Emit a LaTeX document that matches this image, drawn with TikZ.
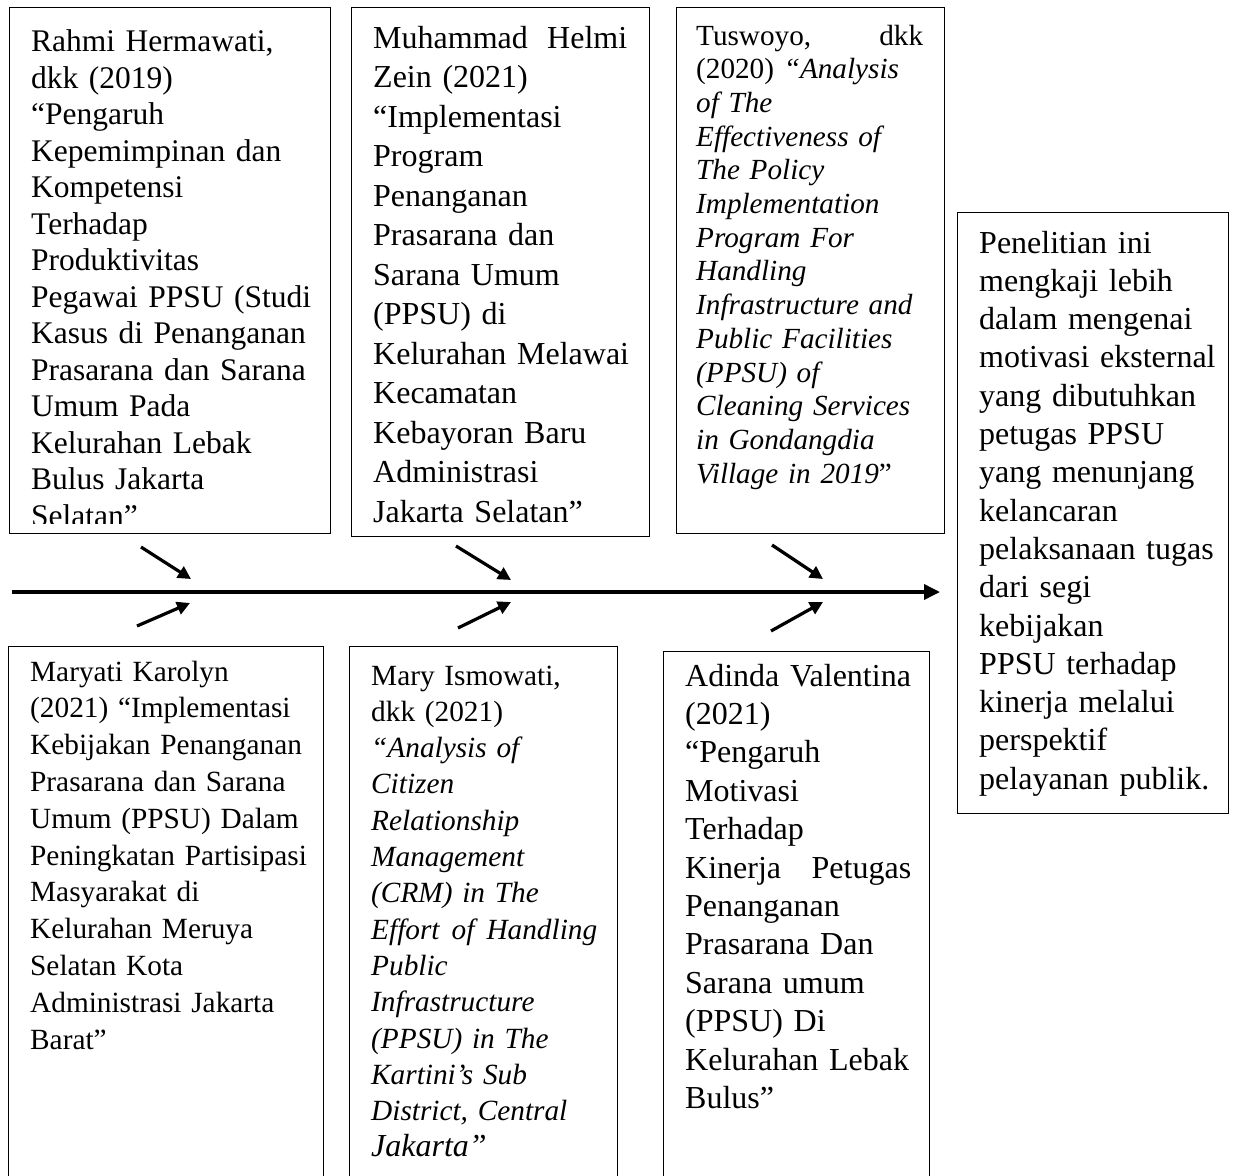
\documentclass[tikz,border=0pt]{standalone}
\usepackage{fontspec}
\setmainfont{Liberation Serif}
\usetikzlibrary{arrows.meta}
\newcommand{\jline}[2]{\leavevmode\hbox to #1{#2}}
\begin{document}
\begin{tikzpicture}[x=1pt,y=-1pt,
  box/.style={draw,line width=1.4pt,inner sep=0pt,anchor=north west},
  txt/.style={anchor=base west,inner sep=0pt,align=left,text width=#1},
  spine/.style={line width=3.6pt,-{Triangle[length=16pt,width=15pt]}},
  fish/.style={line width=3.2pt,-{Triangle[length=13pt,width=13pt]}},
]
\clip (0,0) rectangle (1235,1176);
\fill[white] (0,0) rectangle (1235,1176);

% ---------- top boxes ----------
\node[box,minimum width=321pt,minimum height=526pt] (b1) at (9,7) {};
\node[box,minimum width=298pt,minimum height=529pt] (b2) at (351,7) {};
\node[box,minimum width=268pt,minimum height=526pt] (b3) at (676,7) {};
% ---------- right box ----------
\node[box,minimum width=271pt,minimum height=601pt] (b7) at (957,212) {};
% ---------- bottom boxes ----------
\node[box,minimum width=315pt,minimum height=560pt] (b4) at (8,646) {};
\node[box,minimum width=268pt,minimum height=560pt] (b5) at (349,646) {};
\node[box,minimum width=266pt,minimum height=560pt] (b6) at (663,651) {};

% ---------- texts ----------
\begin{scope}
\clip (9,7) rectangle (330,523);
\node[txt=320pt,font=\fontsize{31.5}{36.5}\selectfont] (t1) at (31,51.5) {Rahmi Hermawati,\\
dkk (2019)\\
“Pengaruh\\
Kepemimpinan dan\\
Kompetensi\\
Terhadap\\
Produktivitas\\
Pegawai PPSU (Studi\\
Kasus di Penanganan\\
Prasarana dan Sarana\\
Umum Pada\\
Kelurahan Lebak\\
Bulus Jakarta\\
Selatan”};
\end{scope}

\node[txt=300pt,font=\fontsize{32}{39.5}\selectfont] (t2) at (373,48) {\jline{254pt}{Muhammad\hfill Helmi}\\
Zein (2021)\\
“Implementasi\\
Program\\
Penanganan\\
Prasarana dan\\
Sarana Umum\\
(PPSU) di\\
Kelurahan Melawai\\
Kecamatan\\
Kebayoran Baru\\
Administrasi\\
Jakarta Selatan”};

\node[txt=300pt,font=\fontsize{29.2}{33.7}\selectfont] (t3) at (696,45) {\jline{227pt}{Tuswoyo,\hfill dkk}\\
(2020) {\itshape “Analysis\\
of The\\
Effectiveness of\\
The Policy\\
Implementation\\
Program For\\
Handling\\
Infrastructure and\\
Public Facilities\\
(PPSU) of\\
Cleaning Services\\
in Gondangdia\\
Village in 2019}”};

\node[txt=300pt,font=\fontsize{32}{38.3}\selectfont] (t7) at (979,253) {Penelitian ini\\
mengkaji lebih\\
dalam mengenai\\
motivasi eksternal\\
yang dibutuhkan\\
petugas PPSU\\
yang menunjang\\
kelancaran\\
pelaksanaan tugas\\
dari segi\\
kebijakan\\
PPSU terhadap\\
kinerja melalui\\
perspektif\\
pelayanan publik.};

\node[txt=330pt,font=\fontsize{29.3}{36.8}\selectfont] (t4) at (30,681) {Maryati Karolyn\\
(2021) “Implementasi\\
Kebijakan Penanganan\\
Prasarana dan Sarana\\
Umum (PPSU) Dalam\\
Peningkatan Partisipasi\\
Masyarakat di\\
Kelurahan Meruya\\
Selatan Kota\\
Administrasi Jakarta\\
Barat”};

\node[txt=300pt,font=\fontsize{29.3}{36.3}\selectfont] (t5) at (371,685) {Mary Ismowati,\\
dkk (2021)\\
{\itshape “Analysis of\\
Citizen\\
Relationship\\
Management\\
(CRM) in The\\
\jline{226pt}{Effort\hfill of\hfill Handling}\\
Public\\
Infrastructure\\
(PPSU) in The\\
Kartini’s Sub\\
District, Central\\
{\fontsize{32}{36.3}\selectfont Jakarta”}}};

\node[txt=300pt,font=\fontsize{32}{38.4}\selectfont] (t6) at (685,686) {Adinda Valentina\\
(2021)\\
“Pengaruh\\
Motivasi\\
Terhadap\\
\jline{226pt}{Kinerja\hfill Petugas}\\
Penanganan\\
Prasarana Dan\\
Sarana umum\\
(PPSU) Di\\
Kelurahan Lebak\\
Bulus”};

% ---------- arrows ----------
\coordinate (s0) at (12,592);
\coordinate (s1) at (940,592);
\draw[spine] (s0) -- (s1);

\coordinate (a1s) at (141,547); \coordinate (a1e) at (191,579);
\coordinate (a2s) at (456,546); \coordinate (a2e) at (511,580);
\coordinate (a3s) at (772,545); \coordinate (a3e) at (823,579);
\coordinate (c1s) at (137,626); \coordinate (c1e) at (190,603);
\coordinate (c2s) at (458,628); \coordinate (c2e) at (511,602);
\coordinate (c3s) at (771,631); \coordinate (c3e) at (823,602);
\draw[fish] (a1s) -- (a1e);
\draw[fish] (a2s) -- (a2e);
\draw[fish] (a3s) -- (a3e);
\draw[fish] (c1s) -- (c1e);
\draw[fish] (c2s) -- (c2e);
\draw[fish] (c3s) -- (c3e);
\end{tikzpicture}
\end{document}
